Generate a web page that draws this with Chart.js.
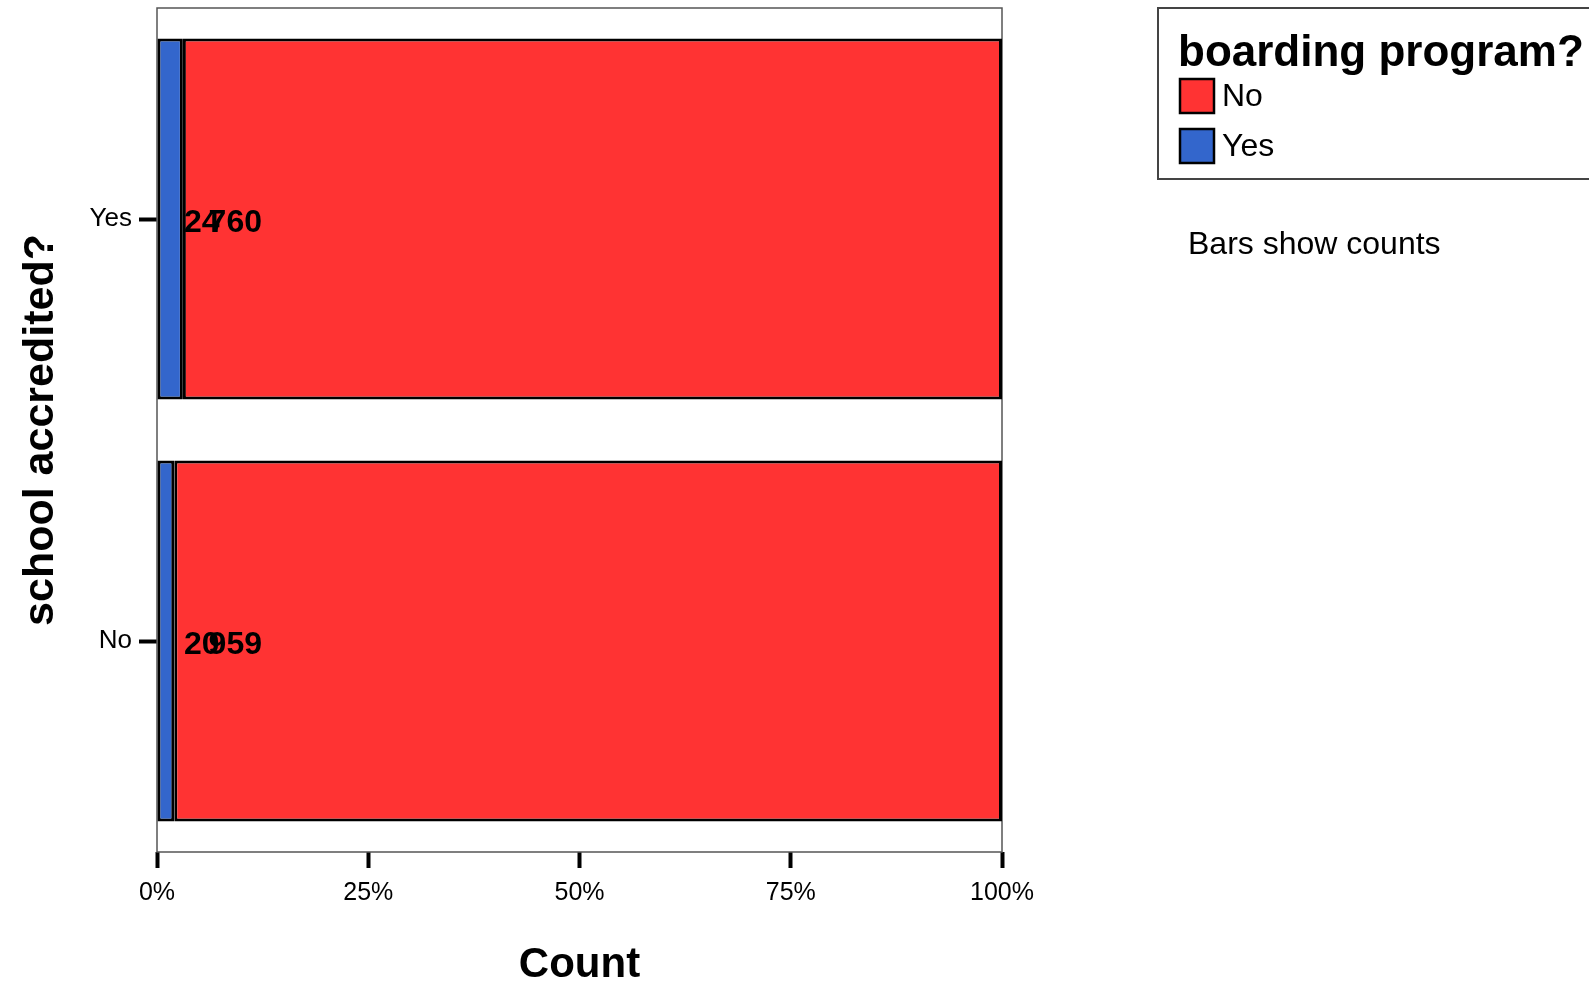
<!DOCTYPE html>
<html lang="en">
<head>
    <meta charset="UTF-8">
    <title>school accredited? by boarding program?</title>
    <script src="https://cdn.jsdelivr.net/npm/chart.js"></script>
    <style>
        html, body {
            margin: 0;
            padding: 0;
            background: #fff;
        }
        .chart-container {
            width: 1589px;
            height: 984px;
        }
    </style>
</head>
<body>
    <div class="chart-container">
        <canvas id="bar-chart" width="1589" height="984"></canvas>
    </div>

    <script>
        // Data
        const categories = ['Yes', 'No'];          // school accredited?
        const boardingYes = [24, 20];              // blue counts
        const boardingNo = [760, 959];             // red counts
        const xTicks = [0, 25, 50, 75, 100];

        const FONT = "'Liberation Sans', Arial, sans-serif";
        const RED = '#ff3333';
        const BLUE = '#3366cc';

        // bars are 100% stacked, so turn counts into shares of each row
        const totals = categories.map((c, i) => boardingYes[i] + boardingNo[i]);
        const pctYes = boardingYes.map((v, i) => v / totals[i] * 100);
        const pctNo = boardingNo.map((v, i) => v / totals[i] * 100);

        // plot frame, count labels, legend box and footnote
        const extras = {
            id: 'extras',
            beforeDatasetsDraw(chart) {
                const {ctx, chartArea: a} = chart;
                ctx.save();
                ctx.strokeStyle = '#555';
                ctx.lineWidth = 1.5;
                ctx.strokeRect(a.left, a.top, a.right - a.left, a.bottom - a.top);
                ctx.restore();
            },
            afterDatasetsDraw(chart) {
                const {ctx} = chart;
                const x0 = chart.scales.x.getPixelForValue(0);
                ctx.save();
                ctx.fillStyle = '#000';
                ctx.font = 'bold 32px ' + FONT;
                ctx.textBaseline = 'middle';
                chart.getDatasetMeta(0).data.forEach((bar, i) => {
                    ctx.textAlign = 'left';
                    ctx.fillText(String(boardingYes[i]), x0 + 27, bar.y + 4);
                    ctx.textAlign = 'right';
                    ctx.fillText(String(boardingNo[i]), x0 + 105, bar.y + 4);
                });

                // legend
                ctx.strokeStyle = '#444';
                ctx.lineWidth = 2;
                ctx.strokeRect(1158, 8, 460, 171);
                ctx.textAlign = 'left';
                ctx.textBaseline = 'alphabetic';
                ctx.font = 'bold 44px ' + FONT;
                ctx.fillText('boarding program?', 1178, 66);
                const items = [['No', RED], ['Yes', BLUE]];
                items.forEach(([label, color], k) => {
                    const y = 79 + k * 50;
                    ctx.fillStyle = color;
                    ctx.fillRect(1180, y, 34, 34);
                    ctx.strokeStyle = '#000';
                    ctx.lineWidth = 2.5;
                    ctx.strokeRect(1180, y, 34, 34);
                    ctx.fillStyle = '#000';
                    ctx.font = '32px ' + FONT;
                    ctx.textBaseline = 'middle';
                    ctx.fillText(label, 1222, y + 18);
                });

                ctx.font = '32px ' + FONT;
                ctx.fillText('Bars show counts', 1188, 245);
                ctx.restore();
            }
        };

        const ctx = document.getElementById('bar-chart').getContext('2d');
        new Chart(ctx, {
            type: 'bar',
            data: {
                labels: categories,
                datasets: [
                    {
                        label: 'Yes',
                        data: pctYes,
                        backgroundColor: BLUE,
                        borderColor: '#000',
                        borderWidth: 3,
                        borderSkipped: false,
                        barPercentage: 0.855,
                        categoryPercentage: 1
                    },
                    {
                        label: 'No',
                        data: pctNo,
                        backgroundColor: RED,
                        borderColor: '#000',
                        borderWidth: 3,
                        borderSkipped: false,
                        barPercentage: 0.855,
                        categoryPercentage: 1
                    }
                ]
            },
            options: {
                indexAxis: 'y',
                responsive: false,
                animation: false,
                layout: {
                    padding: {left: 15, right: 587, top: 8, bottom: 0}
                },
                plugins: {
                    legend: {display: false},
                    tooltip: {enabled: false}
                },
                scales: {
                    x: {
                        stacked: true,
                        min: 0,
                        max: 100,
                        afterBuildTicks(scale) {
                            scale.ticks = xTicks.map(v => ({value: v}));
                        },
                        afterFit(scale) {
                            scale.height = 132;
                        },
                        border: {display: false},
                        grid: {
                            drawOnChartArea: false,
                            drawTicks: true,
                            tickLength: 16,
                            tickWidth: 4,
                            tickColor: '#000'
                        },
                        ticks: {
                            color: '#000',
                            padding: 10,
                            maxRotation: 0,
                            autoSkip: false,
                            font: {family: FONT, size: 25},
                            callback: v => v + '%'
                        },
                        title: {
                            display: true,
                            text: 'Count',
                            color: '#000',
                            padding: {top: 0, bottom: 0},
                            font: {family: FONT, size: 42, weight: 'bold', lineHeight: 0.9}
                        }
                    },
                    y: {
                        stacked: true,
                        afterFit(scale) {
                            scale.width = 142;
                            scale.paddingTop = 0;
                            scale.paddingBottom = 0;
                        },
                        border: {display: false},
                        grid: {
                            offset: false,
                            drawOnChartArea: false,
                            drawTicks: true,
                            tickLength: 18,
                            tickWidth: 4,
                            tickColor: '#000'
                        },
                        ticks: {
                            color: '#000',
                            padding: 7,
                            font: {family: FONT, size: 26}
                        },
                        title: {
                            display: true,
                            text: 'school accredited?',
                            color: '#000',
                            padding: {top: 0, bottom: 0},
                            font: {family: FONT, size: 43, weight: 'bold'}
                        }
                    }
                }
            },
            plugins: [extras]
        });
    </script>
</body>
</html>
